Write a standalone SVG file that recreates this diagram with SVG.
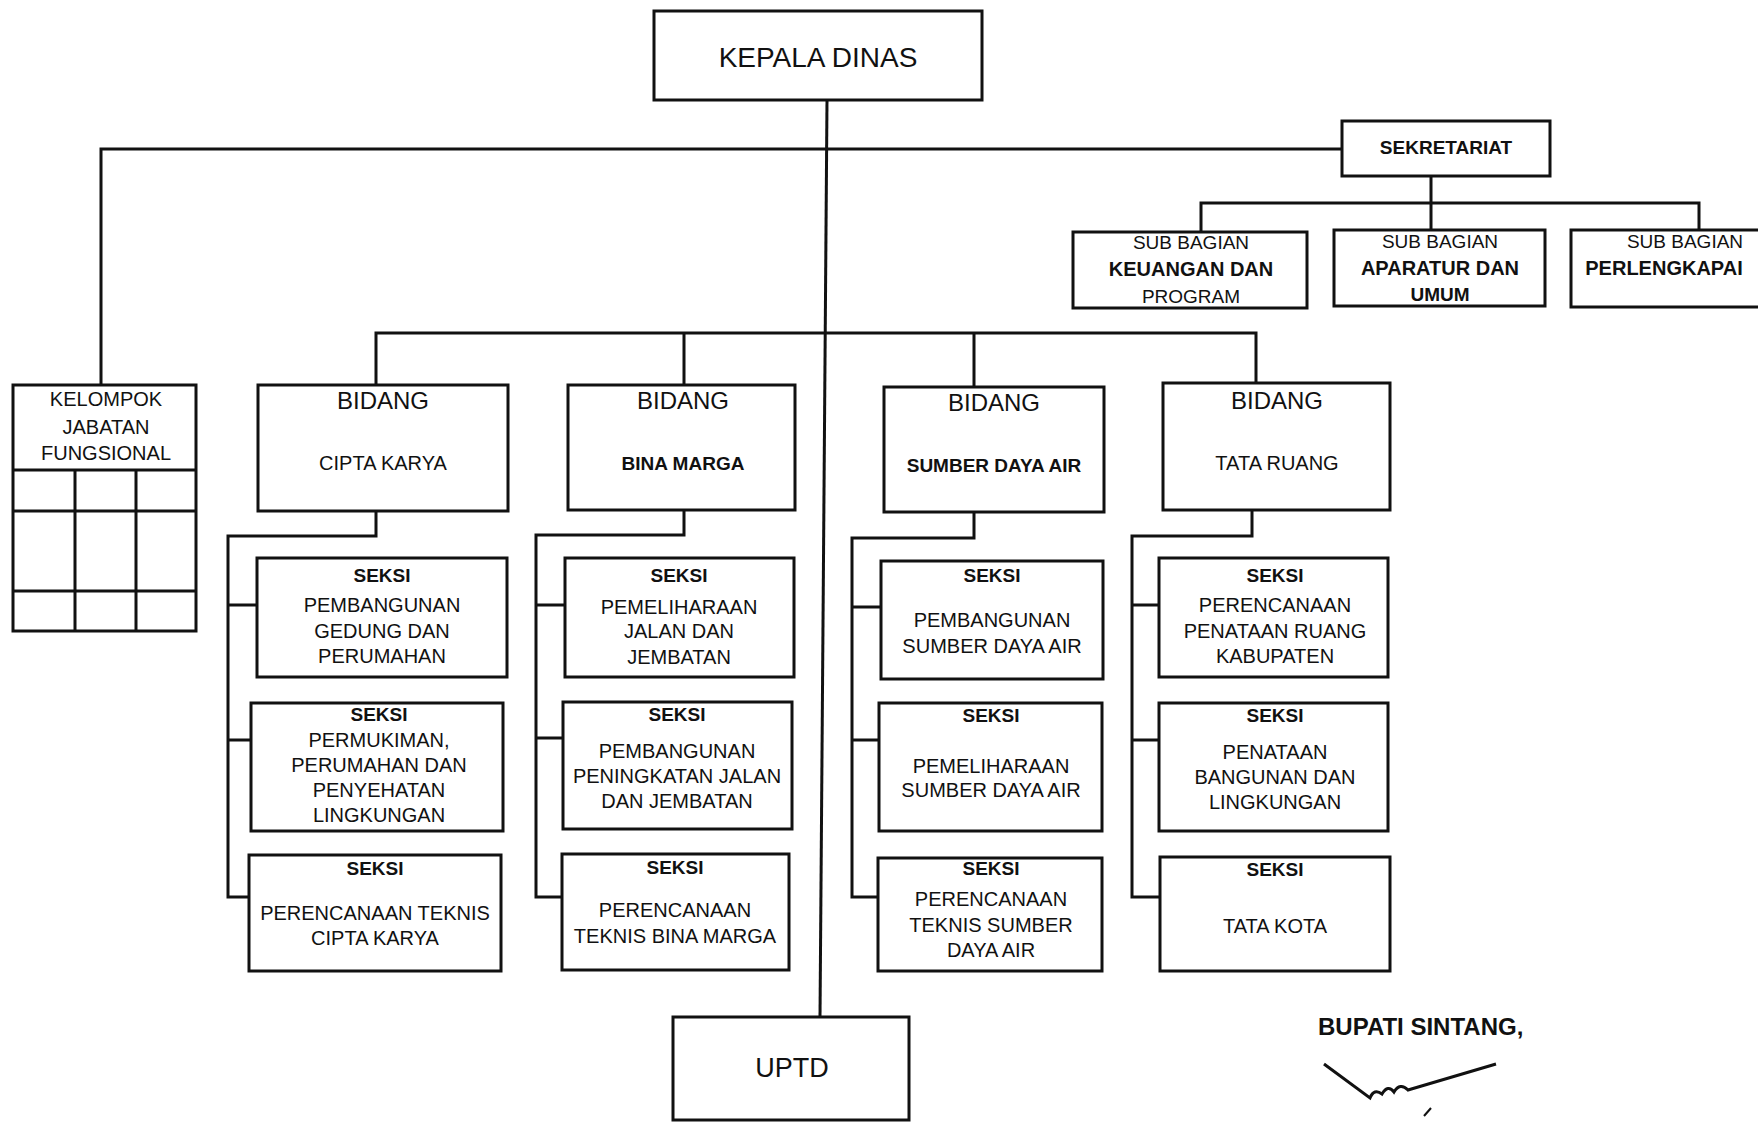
<svg xmlns="http://www.w3.org/2000/svg" width="1758" height="1122" viewBox="0 0 1758 1122" xml:space="preserve">
<style>
.box{fill:#fff;stroke:#111;stroke-width:3}
.ln{fill:none;stroke:#111;stroke-width:3}
text{font-family:"Liberation Sans",Arial,sans-serif;fill:#111;text-anchor:middle}
.s{font-size:20px}
.h{font-size:19px;font-weight:bold}
.bd{font-size:24px}
.k{font-size:20px}
</style>
<rect x="0" y="0" width="1758" height="1122" fill="#fff"/>
<g id="connectors">
<path class="ln" d="M827,100 L820,1017"/>
<path class="ln" d="M101,385 V149 H1342"/>
<path class="ln" d="M1431,176 V230 M1201,232 V203 H1699 V230"/>
<path class="ln" d="M376,385 V333 H1256 V383 M684,333 V385 M974,333 V387"/>
<path class="ln" d="M376,511 V536 H228 V897 H249 M228,605 H257 M228,740 H251"/>
<path class="ln" d="M684,510 V535 H536 V897 H562 M536,605 H565 M536,738 H563"/>
<path class="ln" d="M974,512 V538 H852 V897 H878 M852,607 H881 M852,740 H879"/>
<path class="ln" d="M1252,510 V536 H1132 V897 H1160 M1132,605 H1159 M1132,740 H1159"/>
</g>
<g id="kepala-dinas">
<rect class="box" x="654" y="11" width="328" height="89"/>
<text x="818" y="57" dy="0.35em" style="font-size:28px">KEPALA  DINAS</text>
</g>
<g id="sekretariat">
<rect class="box" x="1342" y="121" width="208" height="55"/>
<text x="1446" y="147" dy="0.35em" class="h">SEKRETARIAT</text>
</g>
<g id="sub-keuangan">
<rect class="box" x="1073" y="232" width="234" height="76"/>
<text x="1191" y="242" dy="0.35em" class="s" style="font-size:19px">SUB  BAGIAN</text>
<text x="1191" y="269" dy="0.35em" class="h" style="font-size:20px">KEUANGAN  DAN</text>
<text x="1191" y="296" dy="0.35em" class="s" style="font-size:19px">PROGRAM</text>
</g>
<g id="sub-aparatur">
<rect class="box" x="1334" y="230" width="211" height="76"/>
<text x="1440" y="241" dy="0.35em" class="s" style="font-size:19px">SUB  BAGIAN</text>
<text x="1440" y="268" dy="0.35em" class="h" style="font-size:20px">APARATUR  DAN</text>
<text x="1440" y="294" dy="0.35em" class="h">UMUM</text>
</g>
<g id="sub-perlengkapan">
<rect class="box" x="1571" y="230" width="210" height="77"/>
<text x="1685" y="241" dy="0.35em" class="s" style="font-size:19px">SUB  BAGIAN</text>
<text x="1664" y="268" dy="0.35em" class="h" style="font-size:20px">PERLENGKAPAI</text>
</g>
<g id="kelompok-jabatan-fungsional">
<rect class="box" x="13" y="385" width="183" height="246"/>
<path class="ln" d="M13,470 H196 M13,511 H196 M13,591 H196 M75,470 V631 M136,470 V631"/>
<text x="106" y="399" dy="0.35em" class="k">KELOMPOK</text>
<text x="106" y="427" dy="0.35em" class="k">JABATAN</text>
<text x="106" y="453" dy="0.35em" class="k">FUNGSIONAL</text>
</g>
<g id="bidang-cipta-karya">
<rect class="box" x="258" y="385" width="250" height="126"/>
<text x="383" y="401" dy="0.35em" class="bd">BIDANG</text>
<text x="383" y="463" dy="0.35em" class="s">CIPTA  KARYA</text>
</g>
<g id="bidang-bina-marga">
<rect class="box" x="568" y="385" width="227" height="125"/>
<text x="683" y="401" dy="0.35em" class="bd">BIDANG</text>
<text x="683" y="463" dy="0.35em" class="h">BINA  MARGA</text>
</g>
<g id="bidang-sumber-daya-air">
<rect class="box" x="884" y="387" width="220" height="125"/>
<text x="994" y="403" dy="0.35em" class="bd">BIDANG</text>
<text x="994" y="465" dy="0.35em" class="h">SUMBER DAYA AIR</text>
</g>
<g id="bidang-tata-ruang">
<rect class="box" x="1163" y="383" width="227" height="127"/>
<text x="1277" y="401" dy="0.35em" class="bd">BIDANG</text>
<text x="1277" y="463" dy="0.35em" class="s">TATA  RUANG</text>
</g>
<g id="seksi-ck-1">
<rect class="box" x="257" y="558" width="250" height="119"/>
<text x="382" y="575" dy="0.35em" class="h">SEKSI</text>
<text x="382" y="605" dy="0.35em" class="s">PEMBANGUNAN</text>
<text x="382" y="631" dy="0.35em" class="s">GEDUNG DAN</text>
<text x="382" y="656" dy="0.35em" class="s">PERUMAHAN</text>
</g>
<g id="seksi-ck-2">
<rect class="box" x="251" y="703" width="252" height="128"/>
<text x="379" y="714" dy="0.35em" class="h">SEKSI</text>
<text x="379" y="740" dy="0.35em" class="s">PERMUKIMAN,</text>
<text x="379" y="765" dy="0.35em" class="s">PERUMAHAN DAN</text>
<text x="379" y="790" dy="0.35em" class="s">PENYEHATAN</text>
<text x="379" y="815" dy="0.35em" class="s">LINGKUNGAN</text>
</g>
<g id="seksi-ck-3">
<rect class="box" x="249" y="855" width="252" height="116"/>
<text x="375" y="868" dy="0.35em" class="h">SEKSI</text>
<text x="375" y="913" dy="0.35em" class="s">PERENCANAAN TEKNIS</text>
<text x="375" y="938" dy="0.35em" class="s">CIPTA  KARYA</text>
</g>
<g id="seksi-bm-1">
<rect class="box" x="565" y="558" width="229" height="119"/>
<text x="679" y="575" dy="0.35em" class="h">SEKSI</text>
<text x="679" y="607" dy="0.35em" class="s">PEMELIHARAAN</text>
<text x="679" y="631" dy="0.35em" class="s">JALAN DAN</text>
<text x="679" y="657" dy="0.35em" class="s">JEMBATAN</text>
</g>
<g id="seksi-bm-2">
<rect class="box" x="563" y="702" width="229" height="127"/>
<text x="677" y="714" dy="0.35em" class="h">SEKSI</text>
<text x="677" y="751" dy="0.35em" class="s">PEMBANGUNAN</text>
<text x="677" y="776" dy="0.35em" class="s">PENINGKATAN JALAN</text>
<text x="677" y="801" dy="0.35em" class="s">DAN JEMBATAN</text>
</g>
<g id="seksi-bm-3">
<rect class="box" x="562" y="854" width="227" height="116"/>
<text x="675" y="867" dy="0.35em" class="h">SEKSI</text>
<text x="675" y="910" dy="0.35em" class="s">PERENCANAAN</text>
<text x="675" y="936" dy="0.35em" class="s">TEKNIS BINA MARGA</text>
</g>
<g id="seksi-sda-1">
<rect class="box" x="881" y="561" width="222" height="118"/>
<text x="992" y="575" dy="0.35em" class="h">SEKSI</text>
<text x="992" y="620" dy="0.35em" class="s">PEMBANGUNAN</text>
<text x="992" y="646" dy="0.35em" class="s">SUMBER DAYA AIR</text>
</g>
<g id="seksi-sda-2">
<rect class="box" x="879" y="703" width="223" height="128"/>
<text x="991" y="715" dy="0.35em" class="h">SEKSI</text>
<text x="991" y="766" dy="0.35em" class="s">PEMELIHARAAN</text>
<text x="991" y="790" dy="0.35em" class="s">SUMBER DAYA AIR</text>
</g>
<g id="seksi-sda-3">
<rect class="box" x="878" y="858" width="224" height="113"/>
<text x="991" y="868" dy="0.35em" class="h">SEKSI</text>
<text x="991" y="899" dy="0.35em" class="s">PERENCANAAN</text>
<text x="991" y="925" dy="0.35em" class="s">TEKNIS SUMBER</text>
<text x="991" y="950" dy="0.35em" class="s">DAYA AIR</text>
</g>
<g id="seksi-tr-1">
<rect class="box" x="1159" y="558" width="229" height="119"/>
<text x="1275" y="575" dy="0.35em" class="h">SEKSI</text>
<text x="1275" y="605" dy="0.35em" class="s">PERENCANAAN</text>
<text x="1275" y="631" dy="0.35em" class="s">PENATAAN RUANG</text>
<text x="1275" y="656" dy="0.35em" class="s">KABUPATEN</text>
</g>
<g id="seksi-tr-2">
<rect class="box" x="1159" y="703" width="229" height="128"/>
<text x="1275" y="715" dy="0.35em" class="h">SEKSI</text>
<text x="1275" y="752" dy="0.35em" class="s">PENATAAN</text>
<text x="1275" y="777" dy="0.35em" class="s">BANGUNAN  DAN</text>
<text x="1275" y="802" dy="0.35em" class="s">LINGKUNGAN</text>
</g>
<g id="seksi-tr-3">
<rect class="box" x="1160" y="857" width="230" height="114"/>
<text x="1275" y="869" dy="0.35em" class="h">SEKSI</text>
<text x="1275" y="926" dy="0.35em" class="s">TATA KOTA</text>
</g>
<g id="uptd">
<rect class="box" x="673" y="1017" width="236" height="103"/>
<text x="792" y="1068" dy="0.35em" style="font-size:27px">UPTD</text>
</g>
<g id="signature">
<text x="1318" y="1027" dy="0.35em" style="font-size:24px;font-weight:bold;text-anchor:start">BUPATI  SINTANG,</text>
<path d="M1324,1064 L1370,1098 Q1374,1088 1382,1094 Q1388,1084 1394,1092 Q1400,1082 1408,1090 L1496,1064" fill="none" stroke="#111" stroke-width="3"/>
<path d="M1424,1116 L1431,1108" fill="none" stroke="#111" stroke-width="2"/>
</g>
</svg>
